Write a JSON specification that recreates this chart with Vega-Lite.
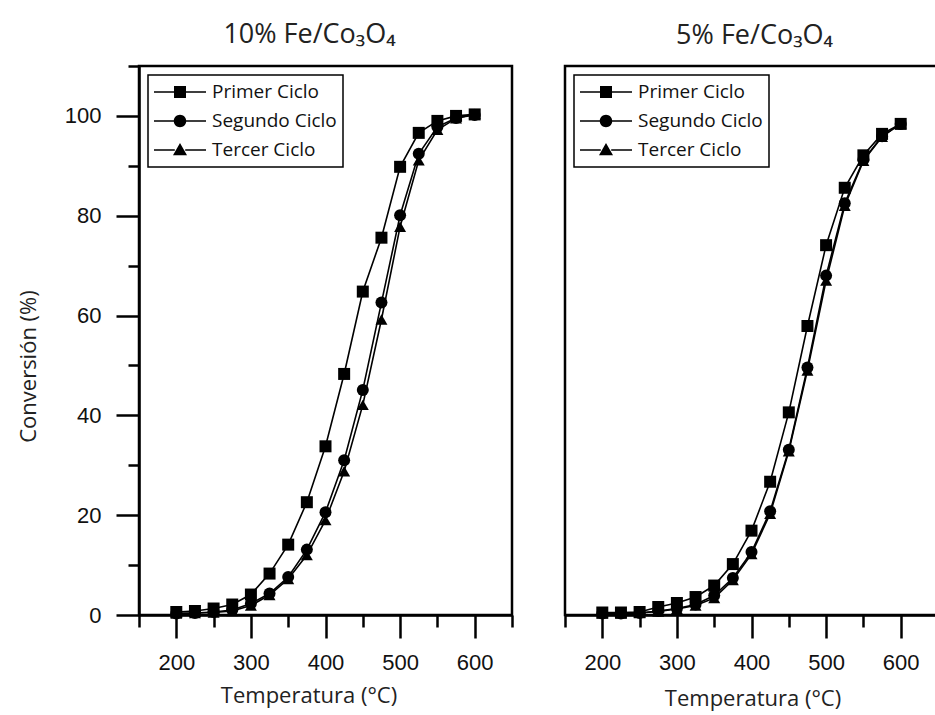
{
  "$schema": "https://vega.github.io/schema/vega-lite/v6.json",
  "background": "white",
  "padding": {"left": 15, "top": 19, "right": 0, "bottom": 0},
  "spacing": 47,
  "config": {
    "view": {"stroke": "black", "strokeWidth": 2.5},
    "axis": {
      "domainColor": "black", "domainWidth": 2.5,
      "tickColor": "black", "tickWidth": 2.5,
      "labelFont": "Liberation Sans", "labelFontSize": 22, "labelColor": "#111",
      "titleFont": "Open Sans", "titleFontSize": 22, "titleFontWeight": "normal", "titleColor": "#222",
      "grid": false
    },
    "legend": {
      "strokeColor": "black", "strokeWidth": 1.5, "fillColor": "white",
      "padding": 6, "rowPadding": 7, "offset": 9, "clipHeight": 22,
      "labelFont": "Open Sans", "labelFontSize": 19, "labelColor": "#111", "labelOffset": 6,
      "symbolSize": 2704, "symbolOpacity": 1, "symbolFillColor": "black", "symbolStrokeWidth": 0
    },
    "title": {"font": "Open Sans", "fontSize": 27, "fontWeight": "normal", "color": "#222"}
  },
  "datasets": {
    "d10": [
      {"ciclo": "Primer Ciclo", "T": 200, "conv": 0.6},
      {"ciclo": "Primer Ciclo", "T": 225, "conv": 0.8},
      {"ciclo": "Primer Ciclo", "T": 250, "conv": 1.3},
      {"ciclo": "Primer Ciclo", "T": 275, "conv": 2.1},
      {"ciclo": "Primer Ciclo", "T": 300, "conv": 4.1},
      {"ciclo": "Primer Ciclo", "T": 325, "conv": 8.3},
      {"ciclo": "Primer Ciclo", "T": 350, "conv": 14.1},
      {"ciclo": "Primer Ciclo", "T": 375, "conv": 22.6},
      {"ciclo": "Primer Ciclo", "T": 400, "conv": 33.8},
      {"ciclo": "Primer Ciclo", "T": 425, "conv": 48.3},
      {"ciclo": "Primer Ciclo", "T": 450, "conv": 64.8},
      {"ciclo": "Primer Ciclo", "T": 475, "conv": 75.6},
      {"ciclo": "Primer Ciclo", "T": 500, "conv": 89.8},
      {"ciclo": "Primer Ciclo", "T": 525, "conv": 96.6},
      {"ciclo": "Primer Ciclo", "T": 550, "conv": 99.0},
      {"ciclo": "Primer Ciclo", "T": 575, "conv": 100.0},
      {"ciclo": "Primer Ciclo", "T": 600, "conv": 100.3},
      {"ciclo": "Segundo Ciclo", "T": 200, "conv": 0.3},
      {"ciclo": "Segundo Ciclo", "T": 225, "conv": 0.4},
      {"ciclo": "Segundo Ciclo", "T": 250, "conv": 0.6},
      {"ciclo": "Segundo Ciclo", "T": 275, "conv": 1.0},
      {"ciclo": "Segundo Ciclo", "T": 300, "conv": 2.3},
      {"ciclo": "Segundo Ciclo", "T": 325, "conv": 4.3},
      {"ciclo": "Segundo Ciclo", "T": 350, "conv": 7.6},
      {"ciclo": "Segundo Ciclo", "T": 375, "conv": 13.1},
      {"ciclo": "Segundo Ciclo", "T": 400, "conv": 20.6},
      {"ciclo": "Segundo Ciclo", "T": 425, "conv": 31.0},
      {"ciclo": "Segundo Ciclo", "T": 450, "conv": 45.1},
      {"ciclo": "Segundo Ciclo", "T": 475, "conv": 62.6},
      {"ciclo": "Segundo Ciclo", "T": 500, "conv": 80.1},
      {"ciclo": "Segundo Ciclo", "T": 525, "conv": 92.4},
      {"ciclo": "Segundo Ciclo", "T": 550, "conv": 97.8},
      {"ciclo": "Segundo Ciclo", "T": 575, "conv": 99.6},
      {"ciclo": "Segundo Ciclo", "T": 600, "conv": 100.2},
      {"ciclo": "Tercer Ciclo", "T": 200, "conv": 0.3},
      {"ciclo": "Tercer Ciclo", "T": 225, "conv": 0.4},
      {"ciclo": "Tercer Ciclo", "T": 250, "conv": 0.5},
      {"ciclo": "Tercer Ciclo", "T": 275, "conv": 0.8},
      {"ciclo": "Tercer Ciclo", "T": 300, "conv": 1.9},
      {"ciclo": "Tercer Ciclo", "T": 325, "conv": 4.0},
      {"ciclo": "Tercer Ciclo", "T": 350, "conv": 7.2},
      {"ciclo": "Tercer Ciclo", "T": 375, "conv": 12.0},
      {"ciclo": "Tercer Ciclo", "T": 400, "conv": 19.0},
      {"ciclo": "Tercer Ciclo", "T": 425, "conv": 28.8},
      {"ciclo": "Tercer Ciclo", "T": 450, "conv": 42.1},
      {"ciclo": "Tercer Ciclo", "T": 475, "conv": 59.2},
      {"ciclo": "Tercer Ciclo", "T": 500, "conv": 77.8},
      {"ciclo": "Tercer Ciclo", "T": 525, "conv": 91.1},
      {"ciclo": "Tercer Ciclo", "T": 550, "conv": 97.2},
      {"ciclo": "Tercer Ciclo", "T": 575, "conv": 99.5},
      {"ciclo": "Tercer Ciclo", "T": 600, "conv": 100.4}
    ],
    "d5": [
      {"ciclo": "Primer Ciclo", "T": 200, "conv": 0.5},
      {"ciclo": "Primer Ciclo", "T": 225, "conv": 0.5},
      {"ciclo": "Primer Ciclo", "T": 250, "conv": 0.6},
      {"ciclo": "Primer Ciclo", "T": 275, "conv": 1.6},
      {"ciclo": "Primer Ciclo", "T": 300, "conv": 2.4},
      {"ciclo": "Primer Ciclo", "T": 325, "conv": 3.6},
      {"ciclo": "Primer Ciclo", "T": 350, "conv": 5.9},
      {"ciclo": "Primer Ciclo", "T": 375, "conv": 10.2},
      {"ciclo": "Primer Ciclo", "T": 400, "conv": 16.9},
      {"ciclo": "Primer Ciclo", "T": 425, "conv": 26.7},
      {"ciclo": "Primer Ciclo", "T": 450, "conv": 40.6},
      {"ciclo": "Primer Ciclo", "T": 475, "conv": 57.9},
      {"ciclo": "Primer Ciclo", "T": 500, "conv": 74.1},
      {"ciclo": "Primer Ciclo", "T": 525, "conv": 85.6},
      {"ciclo": "Primer Ciclo", "T": 550, "conv": 92.1},
      {"ciclo": "Primer Ciclo", "T": 575, "conv": 96.4},
      {"ciclo": "Primer Ciclo", "T": 600, "conv": 98.4},
      {"ciclo": "Segundo Ciclo", "T": 200, "conv": 0.3},
      {"ciclo": "Segundo Ciclo", "T": 225, "conv": 0.3},
      {"ciclo": "Segundo Ciclo", "T": 250, "conv": 0.4},
      {"ciclo": "Segundo Ciclo", "T": 275, "conv": 0.8},
      {"ciclo": "Segundo Ciclo", "T": 300, "conv": 1.3},
      {"ciclo": "Segundo Ciclo", "T": 325, "conv": 2.1},
      {"ciclo": "Segundo Ciclo", "T": 350, "conv": 3.9},
      {"ciclo": "Segundo Ciclo", "T": 375, "conv": 7.4},
      {"ciclo": "Segundo Ciclo", "T": 400, "conv": 12.6},
      {"ciclo": "Segundo Ciclo", "T": 425, "conv": 20.8},
      {"ciclo": "Segundo Ciclo", "T": 450, "conv": 33.1},
      {"ciclo": "Segundo Ciclo", "T": 475, "conv": 49.6},
      {"ciclo": "Segundo Ciclo", "T": 500, "conv": 68.0},
      {"ciclo": "Segundo Ciclo", "T": 525, "conv": 82.5},
      {"ciclo": "Segundo Ciclo", "T": 550, "conv": 91.2},
      {"ciclo": "Segundo Ciclo", "T": 575, "conv": 95.9},
      {"ciclo": "Segundo Ciclo", "T": 600, "conv": 98.4},
      {"ciclo": "Tercer Ciclo", "T": 200, "conv": 0.3},
      {"ciclo": "Tercer Ciclo", "T": 225, "conv": 0.3},
      {"ciclo": "Tercer Ciclo", "T": 250, "conv": 0.4},
      {"ciclo": "Tercer Ciclo", "T": 275, "conv": 0.7},
      {"ciclo": "Tercer Ciclo", "T": 300, "conv": 1.2},
      {"ciclo": "Tercer Ciclo", "T": 325, "conv": 1.9},
      {"ciclo": "Tercer Ciclo", "T": 350, "conv": 3.4},
      {"ciclo": "Tercer Ciclo", "T": 375, "conv": 7.0},
      {"ciclo": "Tercer Ciclo", "T": 400, "conv": 12.2},
      {"ciclo": "Tercer Ciclo", "T": 425, "conv": 20.3},
      {"ciclo": "Tercer Ciclo", "T": 450, "conv": 32.8},
      {"ciclo": "Tercer Ciclo", "T": 475, "conv": 49.0},
      {"ciclo": "Tercer Ciclo", "T": 500, "conv": 67.0},
      {"ciclo": "Tercer Ciclo", "T": 525, "conv": 82.0},
      {"ciclo": "Tercer Ciclo", "T": 550, "conv": 91.0},
      {"ciclo": "Tercer Ciclo", "T": 575, "conv": 95.8},
      {"ciclo": "Tercer Ciclo", "T": 600, "conv": 98.5}
    ]
  },
  "hconcat": [
    {
      "width": 373, "height": 549,
      "title": {"text": "10% Fe/Co₃O₄", "offset": 16, "dx": -16},
      "data": {"name": "d10"},
      "layer": [
        {
          "mark": {"type": "line", "color": "black", "strokeWidth": 1.6},
          "encoding": {
            "x": {"field": "T", "type": "quantitative", "scale": {"domain": [150, 650], "nice": false, "zero": false},
              "axis": {"values": [200, 300, 400, 500, 600], "tickSize": 23, "labelPadding": 14,
                "labelFlush": false, "labelOverlap": false, "orient": "bottom",
                "title": "Temperatura (°C)", "titleX": 169.5, "titleY": 87, "titleBaseline": "alphabetic", "titleAlign": "center"}},
            "y": {"field": "conv", "type": "quantitative", "scale": {"domain": [0, 110], "nice": false, "zero": false},
              "axis": {"values": [0, 20, 40, 60, 80, 100], "tickSize": 23, "labelPadding": 15,
                "labelFlush": false, "labelOverlap": false, "orient": "left",
                "title": "Conversión (%)", "titleX": -111, "titleY": 300, "titleAngle": 270, "titleBaseline": "middle", "titleAlign": "center"}},
            "detail": {"field": "ciclo"}
          }
        },
        {
          "mark": {"type": "point", "filled": true, "color": "black", "size": 144, "opacity": 1},
          "encoding": {
            "x": {"field": "T", "type": "quantitative",
              "axis": {"values": [150, 250, 350, 450, 550, 650], "tickSize": 12, "labels": false, "domain": false, "title": null, "orient": "bottom"}},
            "y": {"field": "conv", "type": "quantitative",
              "axis": {"values": [10, 30, 50, 70, 90, 110], "tickSize": 11, "labels": false, "domain": false, "title": null, "orient": "left"}},
            "shape": {"field": "ciclo", "type": "nominal",
              "scale": {"domain": ["Primer Ciclo", "Segundo Ciclo", "Tercer Ciclo"], "range": ["square", "circle", "triangle-up"]},
              "legend": null}
          }
        },
        {
          "mark": {"type": "point", "filled": true, "color": "black", "size": 0, "opacity": 0},
          "encoding": {
            "x": {"field": "T", "type": "quantitative", "axis": null},
            "y": {"field": "conv", "type": "quantitative", "axis": null},
            "shape": {"field": "ciclo", "type": "nominal",
              "scale": {"domain": ["Primer Ciclo", "Segundo Ciclo", "Tercer Ciclo"],
                "range": [
                  "M-1,-0.03H-0.2V0.03H-1Z M0.2,-0.03H1V0.03H0.2Z M-0.23,-0.23H0.23V0.23H-0.23Z",
                  "M-1,-0.03H-0.2V0.03H-1Z M0.2,-0.03H1V0.03H0.2Z M-0.24,0A0.24,0.24 0 1,1 0.24,0A0.24,0.24 0 1,1 -0.24,0Z",
                  "M-1,-0.03H-0.2V0.03H-1Z M0.2,-0.03H1V0.03H0.2Z M0,-0.27L0.27,0.2L-0.27,0.2Z"
                ]},
              "legend": {"orient": "top-left", "title": null, "symbolOpacity": 1}}
          }
        }
      ],
      "resolve": {"scale": {"shape": "independent"}, "axis": {"x": "independent", "y": "independent"}}
    },
    {
      "width": 373, "height": 549,
      "title": {"text": "5% Fe/Co₃O₄", "offset": 16, "dx": 3},
      "data": {"name": "d5"},
      "layer": [
        {
          "mark": {"type": "line", "color": "black", "strokeWidth": 1.6},
          "encoding": {
            "x": {"field": "T", "type": "quantitative", "scale": {"domain": [150, 650], "nice": false, "zero": false},
              "axis": {"values": [200, 300, 400, 500, 600], "tickSize": 23, "labelPadding": 14,
                "labelFlush": false, "labelOverlap": false, "orient": "bottom",
                "title": "Temperatura (°C)", "titleX": 187.5, "titleY": 90, "titleBaseline": "alphabetic", "titleAlign": "center"}},
            "y": {"field": "conv", "type": "quantitative", "scale": {"domain": [0, 110], "nice": false, "zero": false}, "axis": null},
            "detail": {"field": "ciclo"}
          }
        },
        {
          "mark": {"type": "point", "filled": true, "color": "black", "size": 144, "opacity": 1},
          "encoding": {
            "x": {"field": "T", "type": "quantitative",
              "axis": {"values": [150, 250, 350, 450, 550, 650], "tickSize": 12, "labels": false, "domain": false, "title": null, "orient": "bottom"}},
            "y": {"field": "conv", "type": "quantitative", "axis": null},
            "shape": {"field": "ciclo", "type": "nominal",
              "scale": {"domain": ["Primer Ciclo", "Segundo Ciclo", "Tercer Ciclo"], "range": ["square", "circle", "triangle-up"]},
              "legend": null}
          }
        },
        {
          "mark": {"type": "point", "filled": true, "color": "black", "size": 0, "opacity": 0},
          "encoding": {
            "x": {"field": "T", "type": "quantitative", "axis": null},
            "y": {"field": "conv", "type": "quantitative", "axis": null},
            "shape": {"field": "ciclo", "type": "nominal",
              "scale": {"domain": ["Primer Ciclo", "Segundo Ciclo", "Tercer Ciclo"],
                "range": [
                  "M-1,-0.03H-0.2V0.03H-1Z M0.2,-0.03H1V0.03H0.2Z M-0.23,-0.23H0.23V0.23H-0.23Z",
                  "M-1,-0.03H-0.2V0.03H-1Z M0.2,-0.03H1V0.03H0.2Z M-0.24,0A0.24,0.24 0 1,1 0.24,0A0.24,0.24 0 1,1 -0.24,0Z",
                  "M-1,-0.03H-0.2V0.03H-1Z M0.2,-0.03H1V0.03H0.2Z M0,-0.27L0.27,0.2L-0.27,0.2Z"
                ]},
              "legend": {"orient": "top-left", "title": null, "symbolOpacity": 1}}
          }
        }
      ],
      "resolve": {"scale": {"shape": "independent"}, "axis": {"x": "independent", "y": "independent"}}
    }
  ],
  "resolve": {"scale": {"shape": "independent"}, "legend": {"shape": "independent"}}
}
